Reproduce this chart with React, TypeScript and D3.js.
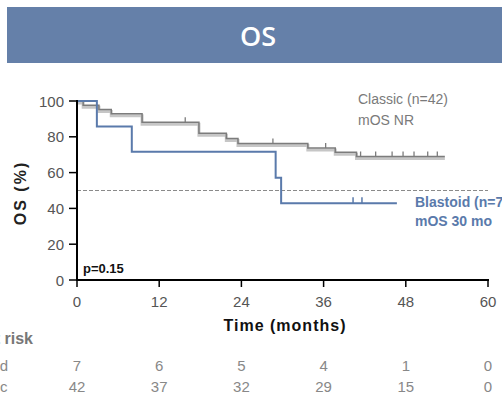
import React from "react";
import * as d3 from "d3";

const classicTimes = [0, 0.9, 3.2, 5.0, 9.5, 17.8, 21.8, 23.5, 33.7, 37.7, 40.8, 53.7];
const classicSurv = [100, 97.6, 95.2, 92.9, 88.1, 82.0, 79.0, 76.2, 73.8, 71.4, 69.0, 69.0];
const classicCensor = [15.8, 28.6, 36.3, 41.4, 43.6, 46.0, 47.6, 49.2, 51.2, 52.6];

const blastTimes = [0, 2.9, 8.0, 29.0, 29.8, 46.7];
const blastSurv = [100, 85.7, 71.6, 57.1, 42.9, 42.9];
const blastCensor = [40.3, 41.6];

const xTicks = [0, 12, 24, 36, 48, 60];
const yTicks = [0, 20, 40, 60, 80, 100];
const atRiskBlast = [7, 6, 5, 4, 1, 0];
const atRiskClassic = [42, 37, 32, 29, 15, 0];

const W = 502;
const H = 398;

function survAt(times: number[], surv: number[], t: number) {
  let v = surv[0];
  for (let i = 0; i < times.length; i++) if (times[i] <= t) v = surv[i];
  return v;
}

export default function App() {
  const x = d3.scaleLinear().domain([0, 60]).range([77, 488]);
  const y = d3.scaleLinear().domain([0, 100]).range([280, 101]);
  const line = d3
    .line<[number, number]>()
    .x((d) => x(d[0]))
    .y((d) => y(d[1]))
    .curve(d3.curveStepAfter);
  const classicPts = classicTimes.map((t, i) => [t, classicSurv[i]] as [number, number]);
  const blastPts = blastTimes.map((t, i) => [t, blastSurv[i]] as [number, number]);
  const font = "'Liberation Sans', Arial, sans-serif";
  const grayBlue = "#5a7aab";

  return (
    <div style={{ position: "absolute", left: 0, top: 0 }}>
      <svg width={W} height={H} style={{ display: "block", background: "#fff" }}>
        {/* title bar */}
        <rect x={7} y={7} width={W} height={56} fill="#6580a9" />
        <text x={258} y={35} textAnchor="middle" dominantBaseline="central" fill="#fff"
          fontFamily="'Open Sans', sans-serif" fontSize={27} fontWeight={600}>OS</text>

        {/* 50% dashed line */}
        <line x1={x(0)} x2={x(60)} y1={y(50)} y2={y(50)} stroke="#8a8a8a" strokeWidth={1} strokeDasharray="4,2" />

        {/* classic curve */}
        <path d={line(classicPts) || ""} fill="none" stroke="#c6c6c6" strokeWidth={3} transform="translate(0,2)" />
        <path d={line(classicPts) || ""} fill="none" stroke="#7c7c7c" strokeWidth={1.5} />
        {classicCensor.map((t, i) => {
          const v = survAt(classicTimes, classicSurv, t);
          return <line key={i} x1={x(t)} x2={x(t)} y1={y(v)} y2={y(v) - 5} stroke="#7c7c7c" strokeWidth={1.3} />;
        })}

        {/* blastoid curve */}
        <path d={line(blastPts) || ""} fill="none" stroke={grayBlue} strokeWidth={2} />
        {blastCensor.map((t, i) => {
          const v = survAt(blastTimes, blastSurv, t);
          return <line key={i} x1={x(t)} x2={x(t)} y1={y(v)} y2={y(v) - 6} stroke={grayBlue} strokeWidth={1.5} />;
        })}

        {/* axes */}
        <line x1={x(0)} x2={x(60) + 1} y1={y(0)} y2={y(0)} stroke="#000" strokeWidth={2} />
        <line x1={x(0)} x2={x(0)} y1={y(0) + 1} y2={y(100) - 1} stroke="#000" strokeWidth={2} />
        {xTicks.map((t) => (
          <g key={t}>
            <line x1={x(t)} x2={x(t)} y1={y(0)} y2={y(0) + 7} stroke="#000" strokeWidth={1.5} />
            <text x={x(t)} y={301} textAnchor="middle" dominantBaseline="central" fill="#555"
              fontFamily={font} fontSize={15}>{t}</text>
          </g>
        ))}
        {yTicks.map((t) => (
          <g key={t}>
            <line x1={x(0) - 8} x2={x(0)} y1={y(t)} y2={y(t)} stroke="#000" strokeWidth={1.5} />
            <text x={64} y={y(t)} textAnchor="end" dominantBaseline="central" fill="#555"
              fontFamily={font} fontSize={15}>{t}</text>
          </g>
        ))}

        {/* axis titles */}
        <text x={285} y={325} textAnchor="middle" dominantBaseline="central" fill="#111"
          fontFamily={font} fontSize={16} fontWeight="bold" letterSpacing={1}>Time (months)</text>
        <text transform="translate(20,193) rotate(-90)" textAnchor="middle" dominantBaseline="central"
          fill="#222" fontFamily={font} fontSize={16} fontWeight="bold" letterSpacing={2}>OS (%)</text>

        <text x={83} y={268} dominantBaseline="central" fill="#111" fontFamily={font} fontSize={13}
          fontWeight="bold">p=0.15</text>

        {/* legends */}
        <text x={358} y={99} dominantBaseline="central" fill="#7a7a7a" fontFamily={font} fontSize={14}>Classic (n=42)</text>
        <text x={358} y={120} dominantBaseline="central" fill="#7a7a7a" fontFamily={font} fontSize={14}>mOS NR</text>
        <text x={415} y={202} dominantBaseline="central" fill={grayBlue} fontFamily={font} fontSize={14} fontWeight="bold">Blastoid (n=7)</text>
        <text x={415} y={221} dominantBaseline="central" fill={grayBlue} fontFamily={font} fontSize={14} fontWeight="bold">mOS 30 mo</text>

        {/* number at risk */}
        <text x={33} y={338} textAnchor="end" dominantBaseline="central" fill="#777" fontFamily={font}
          fontSize={16} fontWeight="bold">Number at risk</text>
        <text x={8} y={365} textAnchor="end" dominantBaseline="central" fill="#888" fontFamily={font} fontSize={15}>Blastoid</text>
        <text x={7.5} y={386} textAnchor="end" dominantBaseline="central" fill="#888" fontFamily={font} fontSize={15}>Classic</text>
        {xTicks.map((t, i) => (
          <g key={t}>
            <text x={x(t)} y={365} textAnchor="middle" dominantBaseline="central" fill="#888" fontFamily={font} fontSize={15}>{atRiskBlast[i]}</text>
            <text x={x(t)} y={386} textAnchor="middle" dominantBaseline="central" fill="#888" fontFamily={font} fontSize={15}>{atRiskClassic[i]}</text>
          </g>
        ))}
      </svg>
    </div>
  );
}
